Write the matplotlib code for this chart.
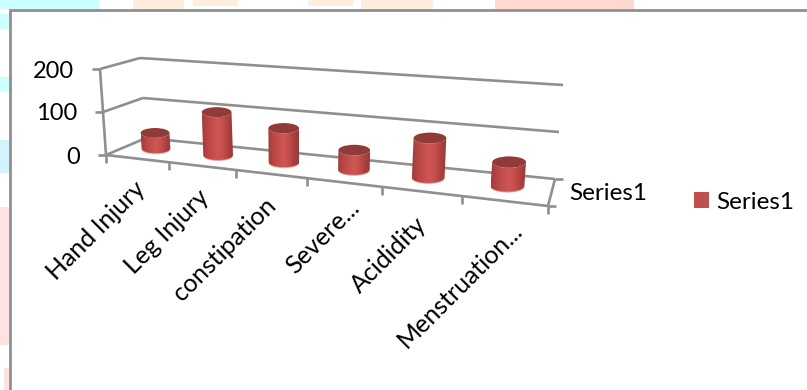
import matplotlib

matplotlib.use("Agg")
import matplotlib.pyplot as plt
import numpy as np
from matplotlib.patches import Ellipse, Patch, Polygon, Rectangle
from matplotlib.colors import LinearSegmentedColormap

categories = ["Hand Injury", "Leg Injury", "constipation", "Severe...", "Acididity", "Menstruation..."]
values = [37, 100, 77, 43, 85, 50]
value_ticks = [0, 100, 200]
series_name = "Series1"

WIDTH, HEIGHT = 807, 390
GRID = "#8f8f8f"
FONT = "Lato"
LABEL_SIZE = 17.5

# box corners in pixels, indexed (front/back, left/right) for the floor and the 200 level
FLOOR = np.array([[[106, 155], [548, 206]], [[146, 138], [555, 179]]], dtype=float)
TOP = np.array([[[100, 69], [556, 106]], [[140, 58], [563, 85]]], dtype=float)
PERSPECTIVE = 1.2
BAR_DEPTH = 0.58
BAR_SHIFT = np.array([-3.0, 0.0])

# pixel nudges of the slanted category labels from the front edge
LABEL_NUDGE = [(4, 27), (3, 27), (1, 28), (12, 21), (1, 29), (14, 26)]

body_cmap = LinearSegmentedColormap.from_list(
    "cylinder", ["#a03d3b", "#b84644", "#c44f4d", "#cf5654", "#c54e4c", "#ad413f", "#993937"]
)


def warp(u):
    return u / (PERSPECTIVE - (PERSPECTIVE - 1) * u)


def project(u, depth, value):
    s = warp(u)
    def corner(box):
        front = box[0, 0] * (1 - s) + box[0, 1] * s
        back = box[1, 0] * (1 - s) + box[1, 1] * s
        return front * (1 - depth) + back * depth
    level = value / value_ticks[-1]
    return corner(FLOOR) * (1 - level) + corner(TOP) * level


def line(ax, a, b, zorder=1):
    ax.plot([a[0], b[0]], [a[1], b[1]], color=GRID, lw=1.9, zorder=zorder, solid_capstyle="butt")


def draw_cylinder(ax, u, value, zorder):
    bottom = project(u, BAR_DEPTH, 0) + BAR_SHIFT
    top = project(u, BAR_DEPTH, value) + BAR_SHIFT
    rx = 14.2 + 3.0 * warp(u)
    ry = 4.8 + 1.0 * warp(u)

    ax.add_patch(Ellipse((bottom[0], bottom[1] + 1), 2 * rx, 2 * ry, color="#e6a09e", lw=0, zorder=zorder))

    # body outline: straight sides, with the lower rim following the base ellipse
    t = np.linspace(-1, 1, 41)
    sag = ry * np.sqrt(1 - t**2)
    outline = np.vstack([
        np.column_stack([top[0] + rx * t, top[1] + sag]),
        np.column_stack([bottom[0] + rx * t[::-1], bottom[1] + sag[::-1]]),
    ])
    body = Polygon(outline, closed=True, facecolor="none", edgecolor="none", transform=ax.transData)
    ax.add_patch(body)
    left = min(top[0], bottom[0]) - rx
    right = max(top[0], bottom[0]) + rx
    image = ax.imshow(
        np.linspace(0, 1, 64).reshape(1, -1),
        cmap=body_cmap,
        extent=(left, right, bottom[1] + ry, top[1] - ry),
        aspect="auto",
        interpolation="bilinear",
        zorder=zorder + 0.1,
    )
    image.set_clip_path(body)
    ax.add_patch(Ellipse(top, 2 * rx, 2 * ry, color="#913b39", lw=0, zorder=zorder + 0.2))


def draw_page(ax):
    # tinted page showing around the chart frame
    strips = [
        (0, 0, 99, 9, "#ccffff"), (0, 14, 9, 15, "#ccffff"), (0, 77, 9, 14, "#ccffff"),
        (0, 140, 9, 33, "#d2f4ff"), (0, 207, 9, 138, "#ffe2e2"), (4, 368, 5, 22, "#ffe2e2"),
        (133, 0, 51, 9, "#ffeedd"), (193, 0, 45, 6, "#ffeedd"),
        (308, 0, 45, 6, "#ffeedd"), (361, 0, 72, 9, "#ffeedd"),
        (495, 0, 139, 9, "#ffd8d0"),
    ]
    for x, y, w, h, colour in strips:
        ax.add_patch(Rectangle((x, y), w, h, facecolor=colour, lw=0, zorder=0))
    ax.plot([10, 10, WIDTH], [HEIGHT, 10, 10], color=GRID, lw=2, zorder=0.5, solid_joinstyle="miter")


fig = plt.figure(figsize=(WIDTH / 100, HEIGHT / 100), dpi=100)
ax = fig.add_axes([0, 0, 1, 1])

draw_page(ax)

# walls and floor
for tick in value_ticks:
    front_left = project(0, 0, tick)
    back_left = project(0, 1, tick)
    back_right = project(1, 1, tick)
    line(ax, front_left, back_left)
    line(ax, back_left, back_right)
    line(ax, front_left, front_left - np.array([8, 0]))
    ax.text(front_left[0] - 26, front_left[1] + 2, str(tick), ha="right", va="center",
            fontsize=17, family=FONT, color="black")
line(ax, project(0, 0, 0), project(0, 0, value_ticks[-1]))
line(ax, project(0, 0, 0), project(1, 0, 0))
line(ax, project(1, 0, 0), project(1, 1, 0))
line(ax, project(1, 1, 0), project(1, 1, 0) + np.array([8, 0]))
line(ax, project(1, 0, 0), project(1, 0, 0) + np.array([8, 0]))

n = len(categories)
for k in range(n + 1):
    p = project(k / n, 0, 0)
    line(ax, p, p + np.array([0, 8]))

for k, (name, value) in enumerate(zip(categories, values)):
    u = (k + 0.5) / n
    draw_cylinder(ax, u, value, 2 + k)
    p = project(u, 0, 0)
    nudge_x, nudge_y = LABEL_NUDGE[k]
    ax.text(p[0] + nudge_x, p[1] + nudge_y, name, rotation=45, rotation_mode="anchor", ha="right", va="center",
            fontsize=18, family=FONT, color="black")

ax.text(569, 194, series_name, ha="left", va="center", fontsize=LABEL_SIZE, family=FONT, color="black")

ax.set_xlim(0, WIDTH)
ax.set_ylim(HEIGHT, 0)
ax.axis("off")

legend = ax.legend(
    handles=[Patch(facecolor="#c0504d", label=series_name)],
    loc="center left",
    bbox_to_anchor=(694 / WIDTH, 1 - 202 / HEIGHT),
    frameon=False,
    prop={"family": FONT, "size": LABEL_SIZE},
    handlelength=0.62,
    handleheight=0.62,
    handletextpad=0.3,
    borderaxespad=0,
    borderpad=0,
)

fig.savefig("out.png", dpi=100)
